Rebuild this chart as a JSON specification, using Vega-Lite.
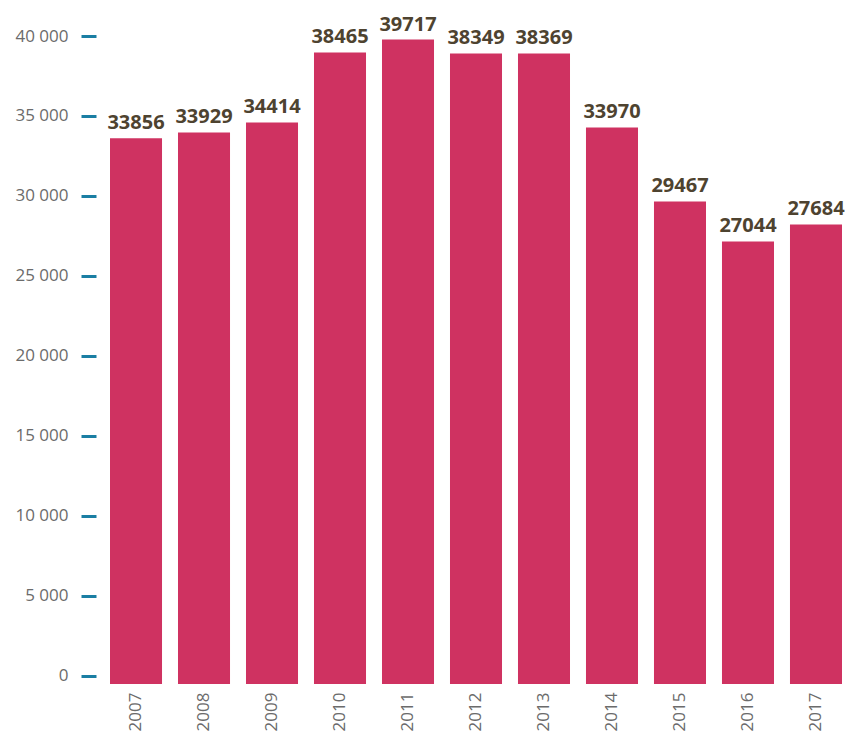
{
  "$schema": "https://vega.github.io/schema/vega-lite/v6.json",
  "autosize": "none",
  "width": 732,
  "height": 648,
  "padding": {"left": 110, "top": 36, "right": 4, "bottom": 49},
  "background": "white",
  "config": {"view": {"stroke": null}, "font": "Open Sans"},
  "data": {
    "values": [
      {"year": "2007", "value": 33612, "label": "33856"},
      {"year": "2008", "value": 33969, "label": "33929"},
      {"year": "2009", "value": 34594, "label": "34414"},
      {"year": "2010", "value": 38969, "label": "38465"},
      {"year": "2011", "value": 39781, "label": "39717"},
      {"year": "2012", "value": 38906, "label": "38349"},
      {"year": "2013", "value": 38906, "label": "38369"},
      {"year": "2014", "value": 34281, "label": "33970"},
      {"year": "2015", "value": 29656, "label": "29467"},
      {"year": "2016", "value": 27156, "label": "27044"},
      {"year": "2017", "value": 28219, "label": "27684"}
    ]
  },
  "encoding": {
    "x": {
      "field": "year",
      "type": "nominal",
      "scale": {"paddingInner": 0.235, "paddingOuter": 0},
      "axis": {
        "title": null,
        "domain": false,
        "ticks": false,
        "labelAngle": -90,
        "labelPadding": 8,
        "labelFontSize": 17,
        "labelColor": "#6b6b6b",
        "labelFont": "Open Sans"
      }
    },
    "y": {
      "field": "value",
      "type": "quantitative",
      "scale": {"domain": [-520, 40000], "nice": false, "zero": false},
      "axis": {
        "title": null,
        "grid": false,
        "domain": false,
        "values": [0, 5000, 10000, 15000, 20000, 25000, 30000, 35000, 40000],
        "labelExpr": "replace(format(datum.value, ','), ',', ' ')",
        "tickColor": "#1a7ea3",
        "tickWidth": 3,
        "tickSize": 15,
        "offset": 14,
        "labelPadding": 13,
        "labelFontSize": 17,
        "labelColor": "#6b6b6b",
        "labelFont": "Open Sans"
      }
    }
  },
  "layer": [
    {
      "mark": {"type": "bar", "color": "#cf3261"},
      "encoding": {"y2": {"datum": -520}}
    },
    {
      "mark": {
        "type": "text",
        "baseline": "alphabetic",
        "align": "center",
        "dy": -9,
        "fontSize": 20,
        "fontWeight": "bold",
        "font": "Open Sans",
        "color": "#4e4330"
      },
      "encoding": {"text": {"field": "label"}}
    }
  ]
}
